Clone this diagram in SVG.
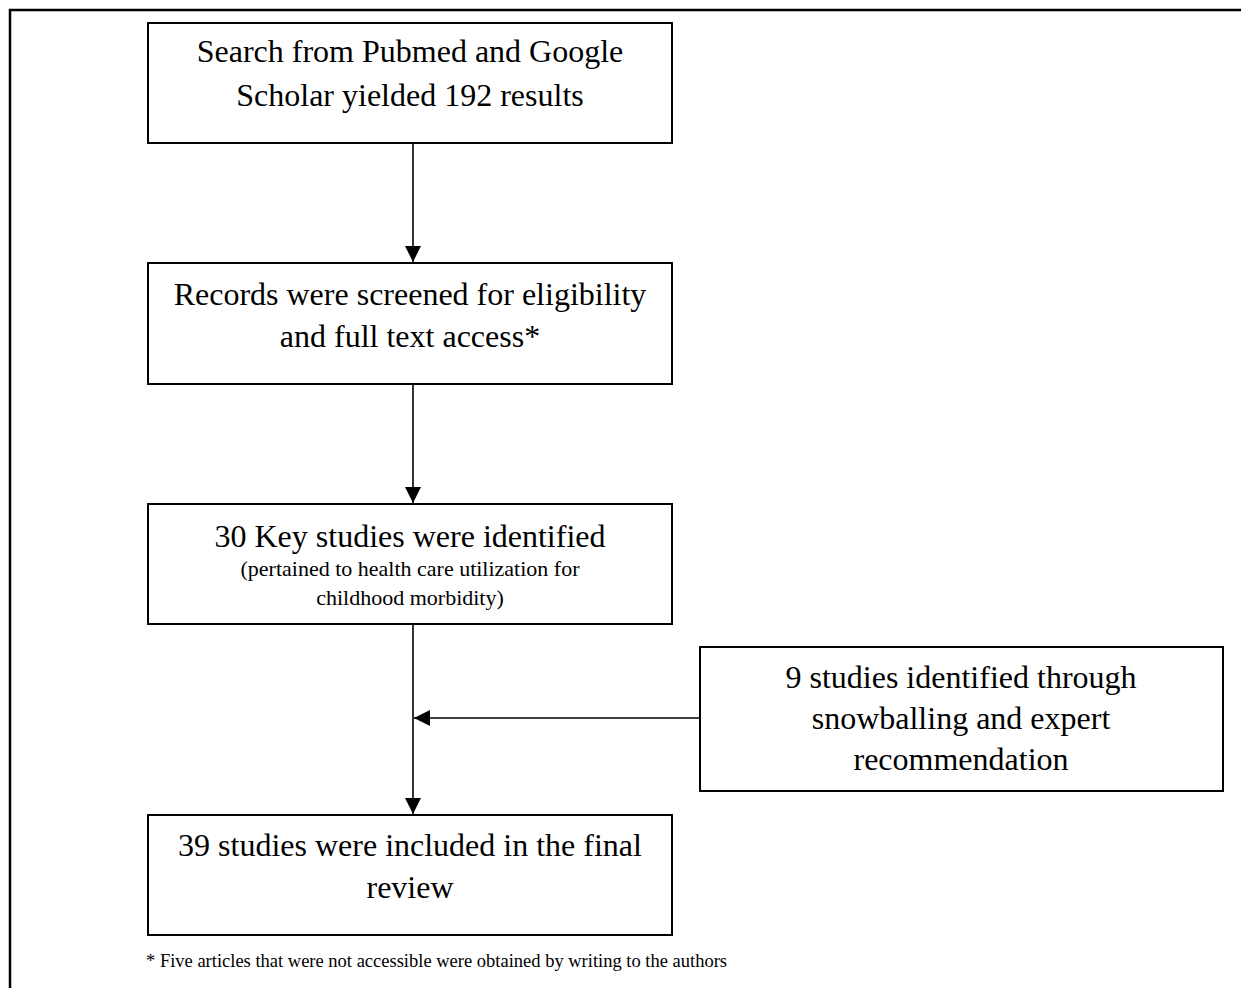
<svg xmlns="http://www.w3.org/2000/svg" width="1241" height="988" viewBox="0 0 1241 988">
<defs>
<style>
.box{fill:#fff;stroke:#000;stroke-width:2}
.t{font-family:"Liberation Serif","Times New Roman",serif;font-size:32px;fill:#000;text-anchor:middle}
.s{font-size:22px}
.conn{stroke:#000;stroke-width:1.6;fill:none}
</style>
<marker id="ah" viewBox="0 0 16 16" refX="16" refY="8" markerWidth="16" markerHeight="16" markerUnits="userSpaceOnUse" orient="auto">
<path d="M0,0 L16,8 L0,16 Z" fill="#000"/>
</marker>
</defs>
<rect width="1241" height="988" fill="#fff"/>
<path d="M10,988 V10 H1241" fill="none" stroke="#000" stroke-width="2.5"/>
<g id="n1">
<rect class="box" x="148" y="23" width="524" height="120"/>
<text class="t" x="410" y="62">Search from Pubmed and Google</text>
<text class="t" x="410" y="106">Scholar yielded 192 results</text>
</g>
<g id="n2">
<rect class="box" x="148" y="263" width="524" height="121"/>
<text class="t" x="410" y="305">Records were screened for eligibility</text>
<text class="t" x="410" y="347">and full text access*</text>
</g>
<g id="n3">
<rect class="box" x="148" y="504" width="524" height="120"/>
<text class="t" x="410" y="547">30 Key studies were identified</text>
<text class="t s" x="410" y="576">(pertained to health care utilization for</text>
<text class="t s" x="410" y="605">childhood morbidity)</text>
</g>
<g id="n4">
<rect class="box" x="700" y="647" width="523" height="144"/>
<text class="t" x="961" y="688">9 studies identified through</text>
<text class="t" x="961" y="729">snowballing and expert</text>
<text class="t" x="961" y="770">recommendation</text>
</g>
<g id="n5">
<rect class="box" x="148" y="815" width="524" height="120"/>
<text class="t" x="410" y="856">39 studies were included in the final</text>
<text class="t" x="410" y="898">review</text>
</g>
<g id="note">
<text x="146" y="967" font-family="'Liberation Serif','Times New Roman',serif" font-size="18.5" fill="#000">* Five articles that were not accessible were obtained by writing to the authors</text>
</g>
<g id="connectors">
<line class="conn" x1="413" y1="143" x2="413" y2="262" marker-end="url(#ah)"/>
<line class="conn" x1="413" y1="384" x2="413" y2="503" marker-end="url(#ah)"/>
<line class="conn" x1="413" y1="624" x2="413" y2="814" marker-end="url(#ah)"/>
<line class="conn" x1="700" y1="718" x2="414" y2="718" marker-end="url(#ah)"/>
</g>
</svg>
